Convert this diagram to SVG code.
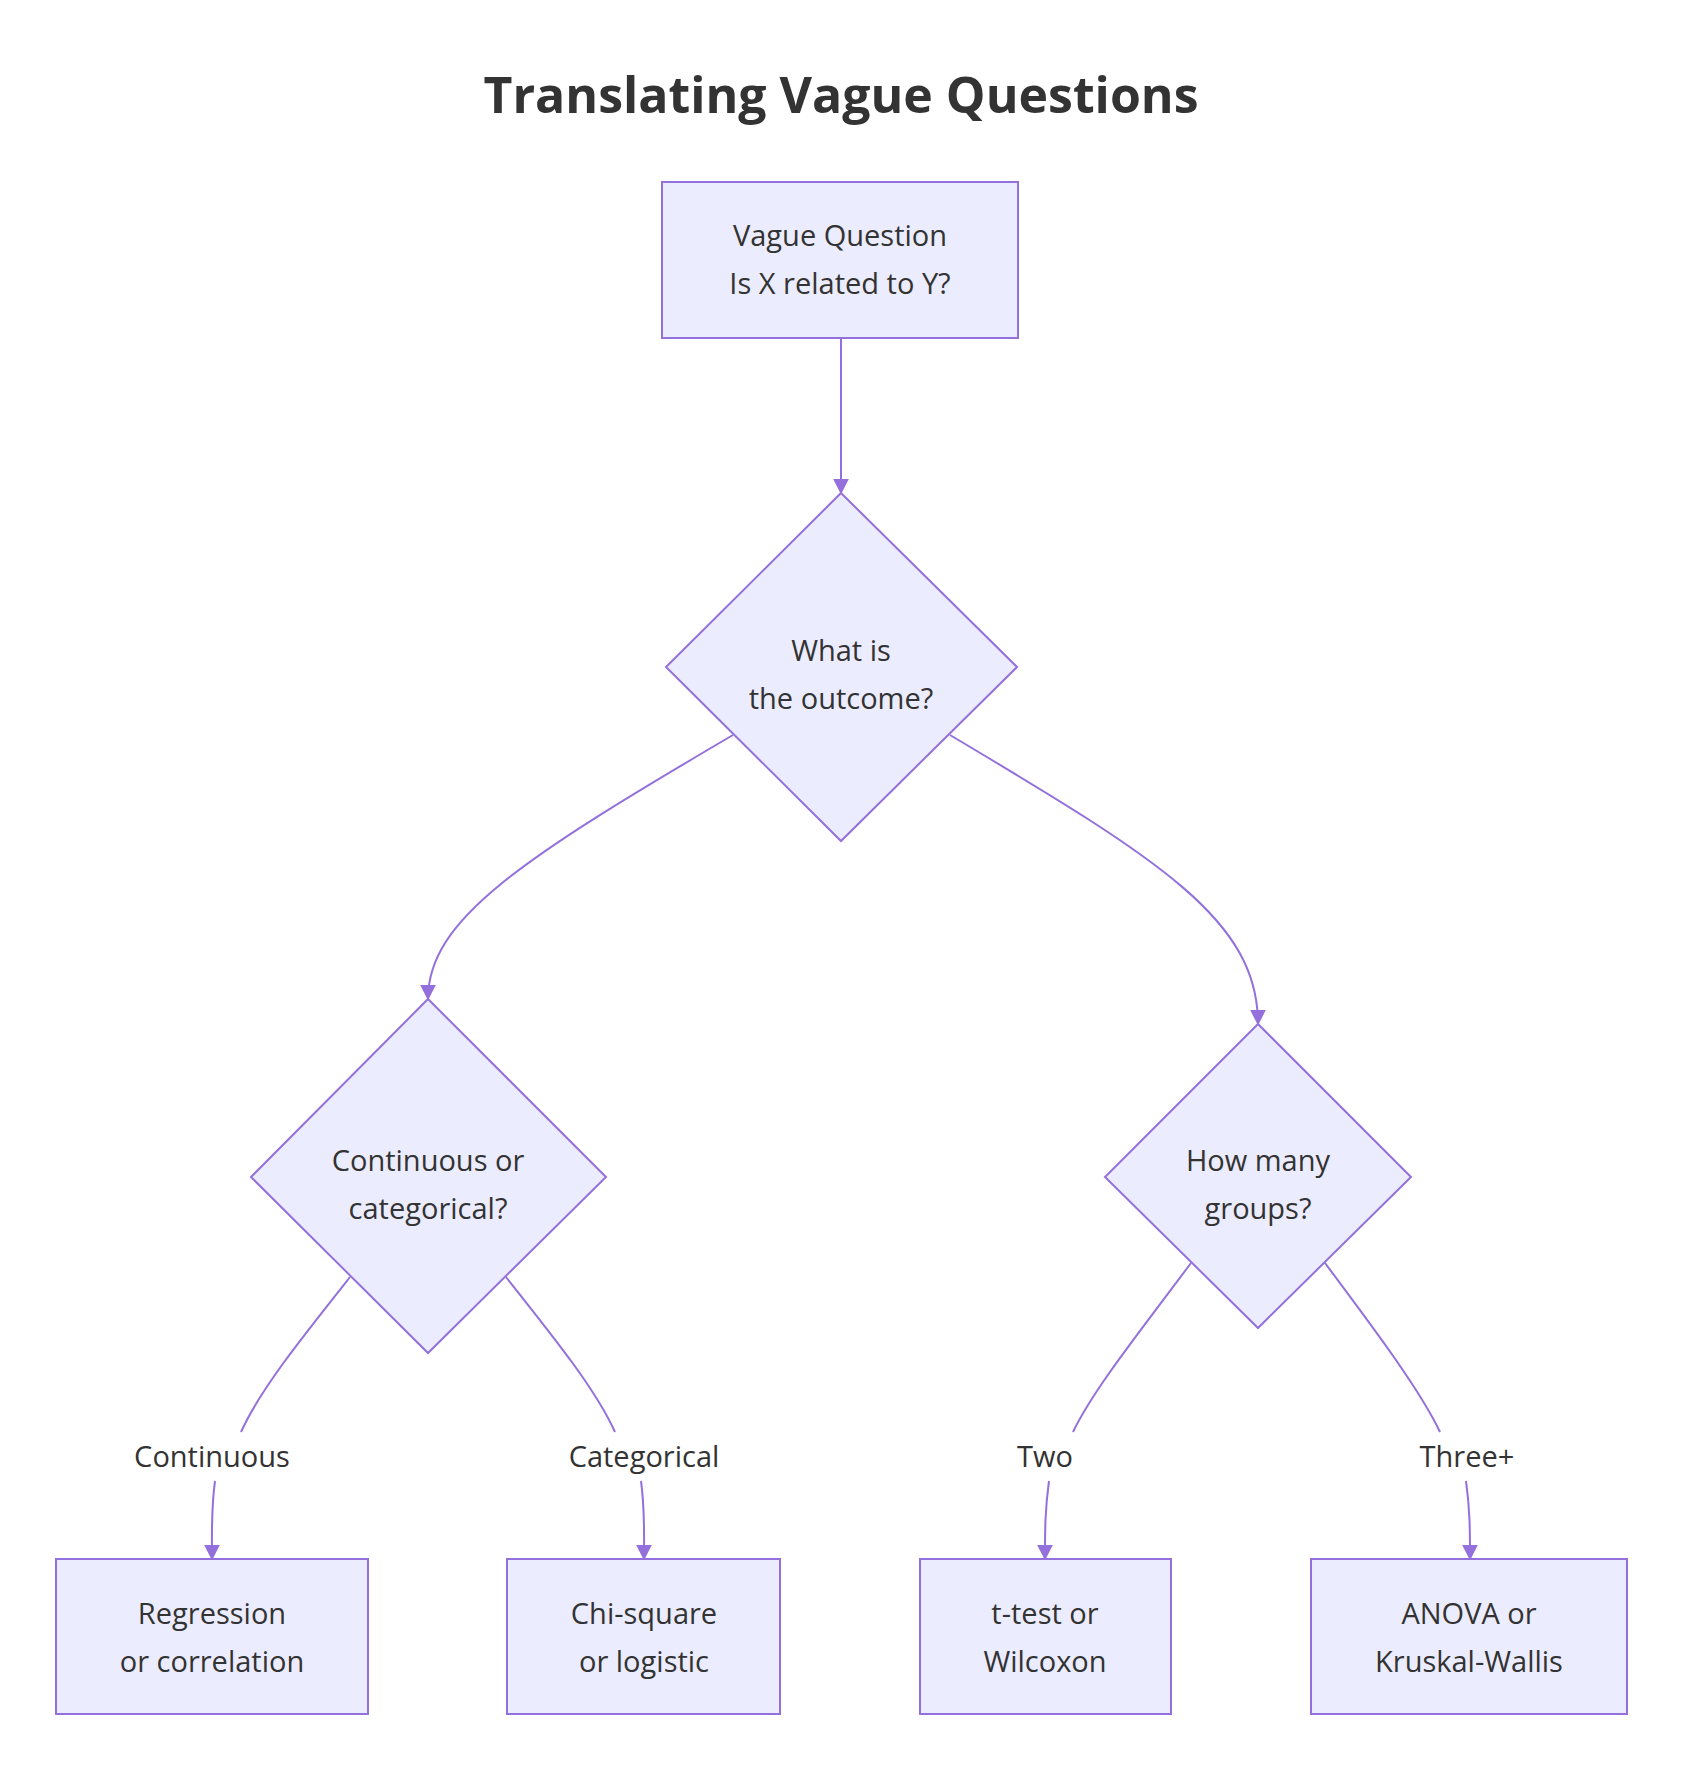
<svg xmlns="http://www.w3.org/2000/svg" width="1684" height="1786" viewBox="0 0 1684 1786">
<style>
.n{fill:#ECECFF;stroke:#9370DB;stroke-width:2}
.t{font-family:"Open Sans","Liberation Sans",sans-serif;font-size:29px;fill:#333;text-anchor:middle}
.e{fill:none;stroke:#9370DB;stroke-width:2}
.a{marker-end:url(#arr)}
</style>
<defs><marker id="arr" viewBox="0 0 10 10" refX="9" refY="5" markerWidth="8" markerHeight="8" orient="auto"><path d="M0,0L10,5L0,10z" fill="#9370DB"/></marker></defs>
<rect width="1684" height="1786" fill="#fff"/>
<text x="841" y="113" style="font-family:'Open Sans','Liberation Sans',sans-serif;font-size:50px;font-weight:bold;fill:#333;text-anchor:middle">Translating Vague Questions</text>
<g id="edges">
<path class="e a" d="M841,335L841,493"/>
<path class="e a" d="M733,735C520,860 428,920 428,999"/>
<path class="e a" d="M950,735C1160,860 1258,920 1258,1024"/>
<path class="e" d="M350,1277C300,1340 260,1390 241,1432"/>
<path class="e a" d="M215,1481C211,1510 212,1530 212,1559"/>
<path class="e" d="M506,1277C556,1340 596,1390 615,1432"/>
<path class="e a" d="M641,1481C645,1510 644,1530 644,1559"/>
<path class="e" d="M1191,1263C1141,1330 1093,1390 1073,1432"/>
<path class="e a" d="M1049,1481C1045,1510 1045,1530 1045,1559"/>
<path class="e" d="M1325,1263C1375,1330 1420,1390 1440,1432"/>
<path class="e a" d="M1466,1481C1470,1510 1470,1530 1470,1559"/>
</g>
<g id="labels">
<text class="t" x="212" y="1467">Continuous</text>
<text class="t" x="644" y="1467">Categorical</text>
<text class="t" x="1045" y="1467">Two</text>
<text class="t" x="1467" y="1467">Three+</text>
</g>
<g id="vague"><rect class="n" x="662" y="182" width="356" height="156"/><text class="t" x="840" y="246">Vague Question</text><text class="t" x="840" y="294">Is X related to Y?</text></g>
<g id="outcome"><path class="n" d="M841,493L1017,667L841,841L666,667z"/><text class="t" x="841" y="661">What is</text><text class="t" x="841" y="709">the outcome?</text></g>
<g id="cont"><path class="n" d="M428,999L606,1177L428,1353L251,1177z"/><text class="t" x="428" y="1171">Continuous or</text><text class="t" x="428" y="1219">categorical?</text></g>
<g id="groups"><path class="n" d="M1258,1024L1411,1177L1258,1328L1105,1177z"/><text class="t" x="1258" y="1171">How many</text><text class="t" x="1258" y="1219">groups?</text></g>
<g id="reg"><rect class="n" x="56" y="1559" width="312" height="155"/><text class="t" x="212" y="1624">Regression</text><text class="t" x="212" y="1672">or correlation</text></g>
<g id="chi"><rect class="n" x="507" y="1559" width="273" height="155"/><text class="t" x="644" y="1624">Chi-square</text><text class="t" x="644" y="1672">or logistic</text></g>
<g id="ttest"><rect class="n" x="920" y="1559" width="251" height="155"/><text class="t" x="1045" y="1624">t-test or</text><text class="t" x="1045" y="1672">Wilcoxon</text></g>
<g id="anova"><rect class="n" x="1311" y="1559" width="316" height="155"/><text class="t" x="1469" y="1624">ANOVA or</text><text class="t" x="1469" y="1672">Kruskal-Wallis</text></g>
</svg>
